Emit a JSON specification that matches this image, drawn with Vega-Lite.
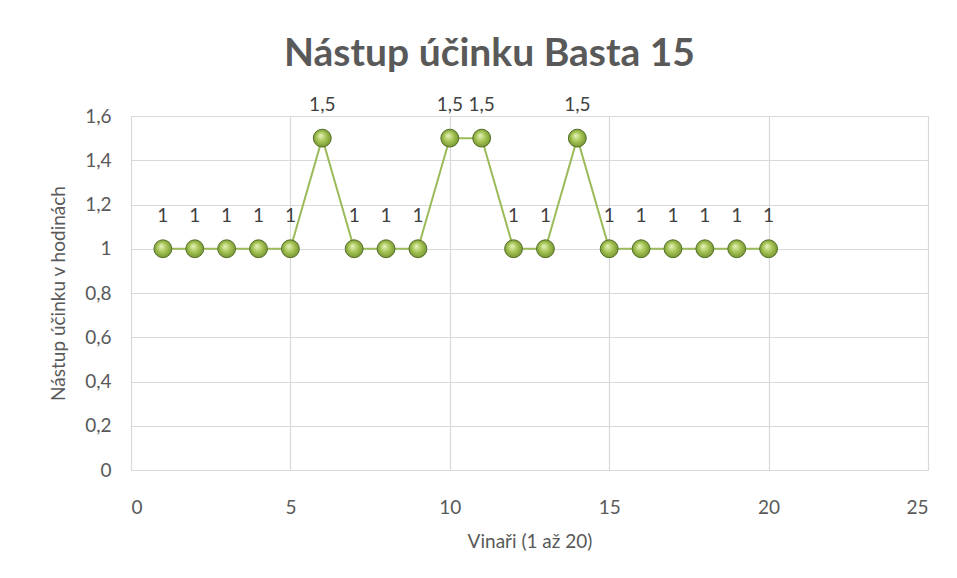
{
  "$schema": "https://vega.github.io/schema/vega-lite/v6.json",
  "width": 797,
  "height": 354,
  "autosize": {"type": "none"},
  "padding": {"left": 131, "top": 116, "right": 29, "bottom": 108},
  "background": "white",
  "config": {
    "locale": {"number": {"decimal": ",", "thousands": " ", "grouping": [3], "currency": ["", " Kč"]}},
    "view": {"stroke": null},
    "font": "Lato",
    "axis": {"labelFont": "Lato", "titleFont": "Lato", "labelColor": "#595959", "titleColor": "#595959", "labelFontSize": 19, "titleFontSize": 19, "titleFontWeight": "normal", "gridColor": "#d9d9d9", "gridWidth": 1.2, "ticks": false, "domain": false}
  },
  "title": {"text": "Nástup účinku Basta 15", "font": "Lato", "fontSize": 39, "fontWeight": "bold", "color": "#595959", "anchor": "middle", "offset": 22, "dx": -40},
  "data": {"values": [
    {"x": 1, "y": 1}, {"x": 2, "y": 1}, {"x": 3, "y": 1}, {"x": 4, "y": 1}, {"x": 5, "y": 1},
    {"x": 6, "y": 1.5}, {"x": 7, "y": 1}, {"x": 8, "y": 1}, {"x": 9, "y": 1}, {"x": 10, "y": 1.5},
    {"x": 11, "y": 1.5}, {"x": 12, "y": 1}, {"x": 13, "y": 1}, {"x": 14, "y": 1.5}, {"x": 15, "y": 1},
    {"x": 16, "y": 1}, {"x": 17, "y": 1}, {"x": 18, "y": 1}, {"x": 19, "y": 1}, {"x": 20, "y": 1}
  ]},
  "encoding": {
    "x": {"field": "x", "type": "quantitative", "scale": {"domain": [0, 25], "nice": false}, "axis": {"values": [0, 5, 10, 15, 20, 25], "title": "Vinaři (1 až 20)", "labelPadding": 28, "titlePadding": 15, "domain": true, "domainColor": "#d9d9d9", "domainWidth": 1.2}},
    "y": {"field": "y", "type": "quantitative", "scale": {"domain": [0, 1.6], "nice": false}, "axis": {"values": [0, 0.2, 0.4, 0.6, 0.8, 1, 1.2, 1.4, 1.6], "format": ".1~f", "title": "Nástup účinku v hodinách", "labelPadding": 20, "titlePadding": 16}}
  },
  "layer": [
    {"mark": {"type": "line", "color": "#9bbb59", "strokeWidth": 2}},
    {"mark": {"type": "point", "filled": true, "size": 320, "opacity": 1, "strokeWidth": 1, "stroke": "#55702a",
      "fill": {"gradient": "radial", "x1": 0.4, "y1": 0.35, "r1": 0, "x2": 0.5, "y2": 0.5, "r2": 0.55, "stops": [{"offset": 0, "color": "#e8f5c0"}, {"offset": 0.5, "color": "#a6c455"}, {"offset": 1, "color": "#6f8f2d"}]}}},
    {"mark": {"type": "text", "dy": -33, "fontSize": 19, "color": "#404040", "font": "Lato"}, "encoding": {"text": {"field": "y", "type": "quantitative", "format": ".1~f"}}}
  ]
}
